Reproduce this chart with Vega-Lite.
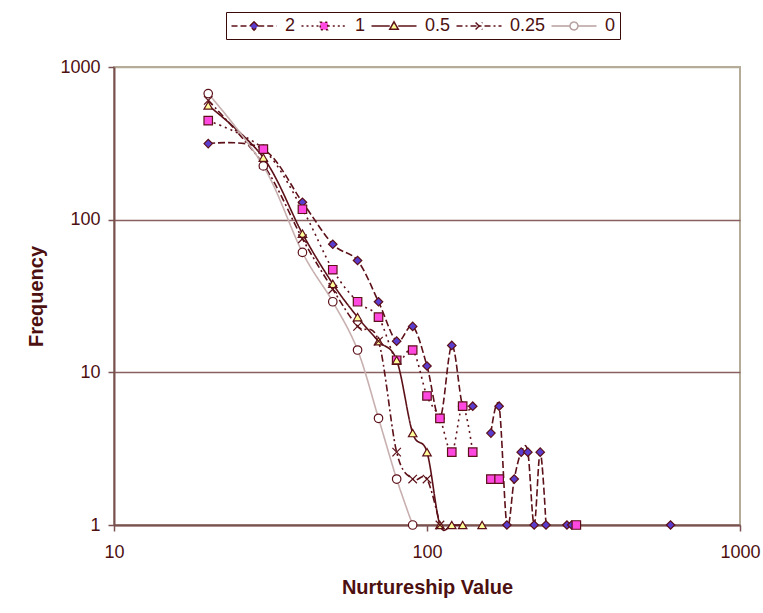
{
  "$schema": "https://vega.github.io/schema/vega-lite/v6.json",
  "width": 626,
  "height": 458,
  "autosize": {"type": "none"},
  "padding": {"left": 114, "top": 67, "right": 23, "bottom": 88},
  "background": "white",
  "config": {
    "font": "Liberation Sans",
    "view": {"stroke": "#b4ac98", "strokeWidth": 2},
    "axis": {"labelFont": "Liberation Sans", "titleFont": "Liberation Sans"}
  },
  "data": {
    "values": [
      {"s": "2", "x": 20, "y": 315}, {"s": "2", "x": 30, "y": 290}, {"s": "2", "x": 40, "y": 130}, {"s": "2", "x": 50, "y": 69},
      {"s": "2", "x": 60, "y": 54}, {"s": "2", "x": 70, "y": 29}, {"s": "2", "x": 80, "y": 16}, {"s": "2", "x": 90, "y": 20},
      {"s": "2", "x": 100, "y": 11}, {"s": "2", "x": 110, "y": 5}, {"s": "2", "x": 120, "y": 15}, {"s": "2", "x": 130, "y": 6},
      {"s": "2", "x": 140, "y": 6}, {"s": "2", "x": 150, "y": null}, {"s": "2", "x": 160, "y": 4}, {"s": "2", "x": 170, "y": 6},
      {"s": "2", "x": 180, "y": 1}, {"s": "2", "x": 190, "y": 2}, {"s": "2", "x": 200, "y": 3}, {"s": "2", "x": 210, "y": 3},
      {"s": "2", "x": 220, "y": 1}, {"s": "2", "x": 230, "y": 3}, {"s": "2", "x": 240, "y": 1}, {"s": "2", "x": 250, "y": null},
      {"s": "2", "x": 280, "y": 1}, {"s": "2", "x": 290, "y": 1}, {"s": "2", "x": 300, "y": null}, {"s": "2", "x": 600, "y": 1},
      {"s": "1", "x": 20, "y": 445}, {"s": "1", "x": 30, "y": 290}, {"s": "1", "x": 40, "y": 117}, {"s": "1", "x": 50, "y": 47},
      {"s": "1", "x": 60, "y": 29}, {"s": "1", "x": 70, "y": 23}, {"s": "1", "x": 80, "y": 12}, {"s": "1", "x": 90, "y": 14},
      {"s": "1", "x": 100, "y": 7}, {"s": "1", "x": 110, "y": 5}, {"s": "1", "x": 120, "y": 3}, {"s": "1", "x": 130, "y": 6},
      {"s": "1", "x": 140, "y": 3}, {"s": "1", "x": 150, "y": null}, {"s": "1", "x": 160, "y": 2}, {"s": "1", "x": 170, "y": 2},
      {"s": "1", "x": 180, "y": null}, {"s": "1", "x": 300, "y": 1},
      {"s": "0.5", "x": 20, "y": 560}, {"s": "0.5", "x": 30, "y": 255}, {"s": "0.5", "x": 40, "y": 81}, {"s": "0.5", "x": 50, "y": 38},
      {"s": "0.5", "x": 60, "y": 23}, {"s": "0.5", "x": 70, "y": 16}, {"s": "0.5", "x": 80, "y": 12}, {"s": "0.5", "x": 90, "y": 4},
      {"s": "0.5", "x": 100, "y": 3}, {"s": "0.5", "x": 110, "y": 1}, {"s": "0.5", "x": 120, "y": 1}, {"s": "0.5", "x": 130, "y": 1},
      {"s": "0.5", "x": 140, "y": null}, {"s": "0.5", "x": 150, "y": 1},
      {"s": "0.25", "x": 20, "y": 605}, {"s": "0.25", "x": 30, "y": 230}, {"s": "0.25", "x": 40, "y": 75}, {"s": "0.25", "x": 50, "y": 35},
      {"s": "0.25", "x": 60, "y": 20}, {"s": "0.25", "x": 70, "y": 16}, {"s": "0.25", "x": 80, "y": 3}, {"s": "0.25", "x": 90, "y": 2},
      {"s": "0.25", "x": 100, "y": 2}, {"s": "0.25", "x": 110, "y": 1},
      {"s": "0", "x": 20, "y": 670}, {"s": "0", "x": 30, "y": 225}, {"s": "0", "x": 40, "y": 61}, {"s": "0", "x": 50, "y": 29},
      {"s": "0", "x": 60, "y": 14}, {"s": "0", "x": 70, "y": 5}, {"s": "0", "x": 80, "y": 2}, {"s": "0", "x": 90, "y": 1}
    ]
  },
  "encoding": {
    "x": {
      "field": "x", "type": "quantitative",
      "scale": {"type": "log", "domain": [10, 1000], "nice": false},
      "axis": {
        "title": "Nurtureship Value", "values": [10, 100, 1000], "format": "d", "grid": false,
        "domainColor": "#7a5050", "domainWidth": 2, "tickColor": "#7a5050", "tickWidth": 1.5, "tickSize": 6,
        "labelFontSize": 18, "labelColor": "#4d1010", "labelPadding": 12, "labelFlush": false,
        "titleFontSize": 20, "titleFontWeight": "bold", "titleColor": "#4d1010", "titlePadding": 16
      }
    },
    "y": {
      "field": "y", "type": "quantitative",
      "scale": {"type": "log", "domain": [1, 1000], "nice": false},
      "axis": {
        "title": "Frequency", "values": [1, 10, 100, 1000], "format": "d", "grid": true,
        "gridColor": {"condition": {"test": "datum.value >= 1000", "value": "#b4ac98"}, "value": "#8a6060"},
        "gridWidth": 1.5,
        "domainColor": "#7a5050", "domainWidth": 2, "tickColor": "#7a5050", "tickWidth": 1.5, "tickSize": 6,
        "labelFontSize": 18, "labelColor": "#4d1010", "labelPadding": 8, "labelFlush": false,
        "titleFontSize": 20, "titleFontWeight": "bold", "titleColor": "#4d1010", "titlePadding": 13
      }
    }
  },
  "resolve": {"scale": {"shape": "independent", "fill": "independent", "strokeDash": "independent", "stroke": "independent"}},
  "layer": [
    {
      "mark": {"type": "line", "interpolate": "cardinal", "strokeWidth": 1.6, "invalid": "break-paths-filter-domains"},
      "encoding": {
        "stroke": {
          "field": "s", "type": "nominal",
          "scale": {"domain": ["2", "1", "0.5", "0.25", "0"], "range": ["#5c1018", "#5c1018", "#5c1018", "#5c1018", "#c8b0b0"]},
          "legend": null
        },
        "strokeDash": {
          "field": "s", "type": "nominal",
          "scale": {"domain": ["2", "1", "0.5", "0.25", "0"], "range": [[7, 3], [2, 4], [1, 0], [7, 3, 2, 3], [1, 0]]},
          "legend": null
        }
      }
    },
    {
      "mark": {"type": "point", "filled": true, "size": 72, "strokeWidth": 1.2, "stroke": "#5c1018", "opacity": 1, "invalid": "filter"},
      "encoding": {
        "shape": {
          "field": "s", "type": "nominal",
          "scale": {"domain": ["2", "1", "0.5", "0.25", "0"], "range": ["diamond", "square", "triangle-up", "M-1,-1L1,1M-1,1L1,-1", "circle"]},
          "legend": null
        },
        "fill": {
          "field": "s", "type": "nominal",
          "scale": {"domain": ["2", "1", "0.5", "0.25", "0"], "range": ["#5a3ccf", "#ff48e0", "#ffff99", "transparent", "#ffffff"]},
          "legend": null
        }
      }
    },
    {
      "transform": [{"filter": "datum.x == 20"}],
      "mark": {"type": "point", "filled": true, "size": 324, "strokeWidth": 1.5, "opacity": 0},
      "encoding": {
        "shape": {
          "field": "s", "type": "nominal",
          "scale": {"domain": ["2", "1", "0.5", "0.25", "0"], "range": [
            "M-2.5,0H-0.47M0.47,0H2.5M0,-0.47L0.47,0L0,0.47L-0.47,0Z",
            "M-2.5,0H-0.42M0.42,0H2.5M-0.42,-0.42H0.42V0.42H-0.42Z",
            "M-2.5,0H-0.47M0.47,0H2.5M0,-0.47L0.47,0.36L-0.47,0.36Z",
            "M-2.5,0H2.5M-0.38,-0.38L0.38,0.38M-0.38,0.38L0.38,-0.38",
            "M-2.5,0H-0.44M0.44,0H2.5M0.44,0A0.44,0.44,0,1,1,-0.44,0A0.44,0.44,0,1,1,0.44,0Z"
          ]},
          "legend": {
            "orient": "none", "legendX": 112, "legendY": -55, "direction": "horizontal", "title": null,
            "strokeColor": "#3a0a0a", "fillColor": "white", "padding": 4,
            "labelFontSize": 18, "labelColor": "#4d1010", "labelOffset": 21, "symbolOffset": 14, "columnPadding": 2,
            "symbolSize": 324, "symbolStrokeWidth": 1.5, "symbolOpacity": 1
          }
        },
        "fill": {
          "field": "s", "type": "nominal",
          "scale": {"domain": ["2", "1", "0.5", "0.25", "0"], "range": ["#5a3ccf", "#ff48e0", "#ffff99", "transparent", "#ffffff"]}
        },
        "stroke": {
          "field": "s", "type": "nominal",
          "scale": {"domain": ["2", "1", "0.5", "0.25", "0"], "range": ["#5c1018", "#5c1018", "#5c1018", "#5c1018", "#b8a0a0"]}
        },
        "strokeDash": {
          "field": "s", "type": "nominal",
          "scale": {"domain": ["2", "1", "0.5", "0.25", "0"], "range": [[6, 3], [2, 3], [1, 0], [6, 3, 2, 3], [1, 0]]}
        }
      }
    }
  ]
}
